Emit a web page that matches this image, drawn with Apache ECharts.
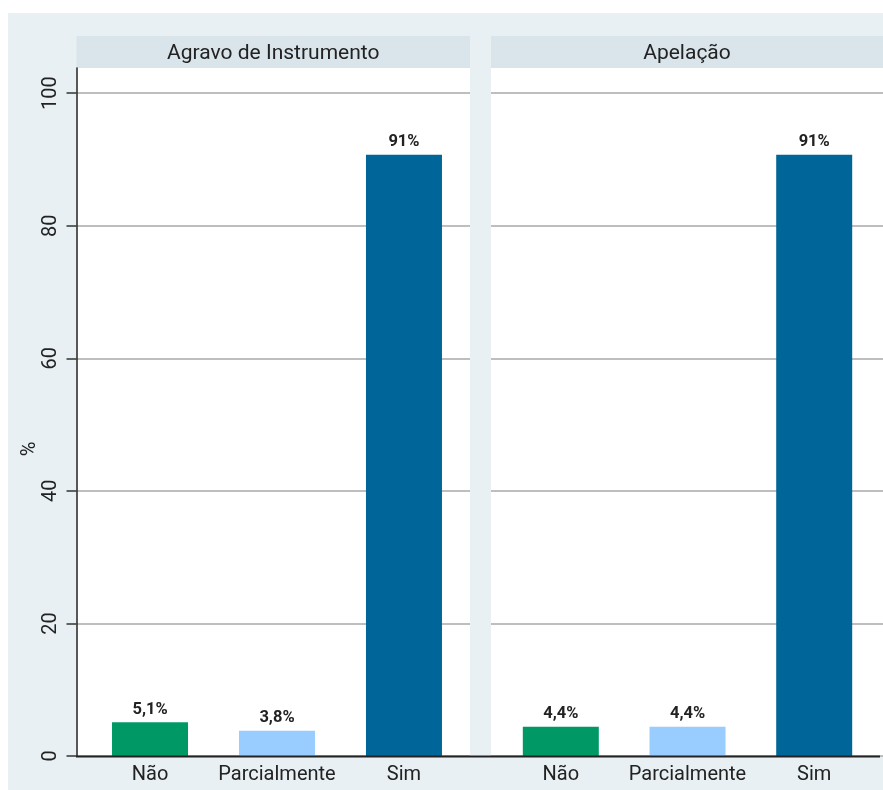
<!DOCTYPE html>
<html>
<head>
<meta charset="utf-8">
<script src="https://cdn.jsdelivr.net/npm/echarts@6/dist/echarts.min.js"></script>
<style>
html,body{margin:0;padding:0;background:#fff;}
#chart{width:883px;height:790px;}
</style>
</head>
<body>
<div id="chart"></div>
<script>
// Data
const panels = ["Agravo de Instrumento", "Apelação"];
const categories = ["Não", "Parcialmente", "Sim"];
const valuesAgravo = [5.1, 3.8, 90.7];
const valuesApelacao = [4.4, 4.4, 90.7];
const labelsAgravo = ["5,1%", "3,8%", "91%"];
const labelsApelacao = ["4,4%", "4,4%", "91%"];
const yTicks = [0, 20, 40, 60, 80, 100];
const barColors = ["#009966", "#99ccff", "#006699"];

const FONT = "Roboto";
const chart = echarts.init(document.getElementById('chart'), null, {renderer: 'canvas'});

const positions = [1, 2, 3];
function seriesFor(idx, vals, labs) {
  return {
    type: 'bar',
    xAxisIndex: idx, yAxisIndex: idx,
    barWidth: 76,
    data: vals.map((v, i) => ({
      value: [positions[i], v],
      itemStyle: {color: barColors[i]},
      label: {formatter: labs[i]}
    })),
    label: {
      show: true, position: 'top', distance: 4,
      fontFamily: FONT, fontSize: 16.5, fontWeight: 'bold', color: '#222'
    },
    z: 3
  };
}

const grids = [
  {left: 76.5, top: 68, width: 393.5, height: 688},
  {left: 491, top: 68, width: 392, height: 688}
];
const xRanges = [[0.421, 3.52], [0.449, 3.543]];

const option = {
  backgroundColor: '#ffffff',
  animation: false,
  graphic: [
    {type: 'rect', z: -100, shape: {x: 8, y: 13, width: 875, height: 777}, style: {fill: '#e8f0f3'}, silent: true},
    {type: 'rect', z: -99, shape: {x: 76.5, y: 36, width: 393.5, height: 32}, style: {fill: '#d9e5eb'}, silent: true},
    {type: 'rect', z: -99, shape: {x: 491, y: 36, width: 392, height: 32}, style: {fill: '#d9e5eb'}, silent: true},
    {type: 'rect', z: 100, shape: {x: 76, y: 755.5, width: 804, height: 2}, style: {fill: '#222'}, silent: true}
  ],
  title: panels.map((t, i) => ({
    text: t,
    left: grids[i].left + grids[i].width / 2,
    top: 43.5,
    padding: 0,
    textAlign: 'center',
    textStyle: {fontFamily: FONT, fontSize: 21, fontWeight: 'normal', color: '#222'}
  })),
  grid: grids.map(g => Object.assign({show: true, backgroundColor: '#ffffff', borderWidth: 0, containLabel: false}, g)),
  xAxis: [0, 1].map(i => ({
    type: 'value', gridIndex: i,
    min: xRanges[i][0], max: xRanges[i][1],
    axisLine: {show: false},
    axisTick: {show: false},
    splitLine: {show: false},
    axisLabel: {
      customValues: positions,
      formatter: v => categories[Math.round(v) - 1] || '',
      fontFamily: FONT, fontSize: 20, color: '#222', margin: 9
    }
  })),
  yAxis: [0, 1].map(i => ({
    type: 'value', gridIndex: i,
    min: 0, max: 103.8,
    name: i === 0 ? '%' : '',
    nameLocation: 'middle', nameRotate: 90, nameGap: 35,
    nameTextStyle: {fontFamily: FONT, fontSize: 20, color: '#222', padding: [0, 74, 0, 0]},
    axisLine: {show: i === 0, lineStyle: {color: '#222', width: 1.5}},
    axisTick: {show: i === 0, customValues: yTicks, length: 10, lineStyle: {color: '#333', width: 1.5}},
    axisLabel: {show: i === 0, customValues: yTicks, rotate: 90, margin: 16,
      fontFamily: FONT, fontSize: 20, color: '#222'},
    splitLine: {show: true, lineStyle: {color: '#a8a8a8', width: 1.5}}
  })),
  series: [
    seriesFor(0, valuesAgravo, labelsAgravo),
    seriesFor(1, valuesApelacao, labelsApelacao)
  ]
};
chart.setOption(option);
</script>
</body>
</html>
